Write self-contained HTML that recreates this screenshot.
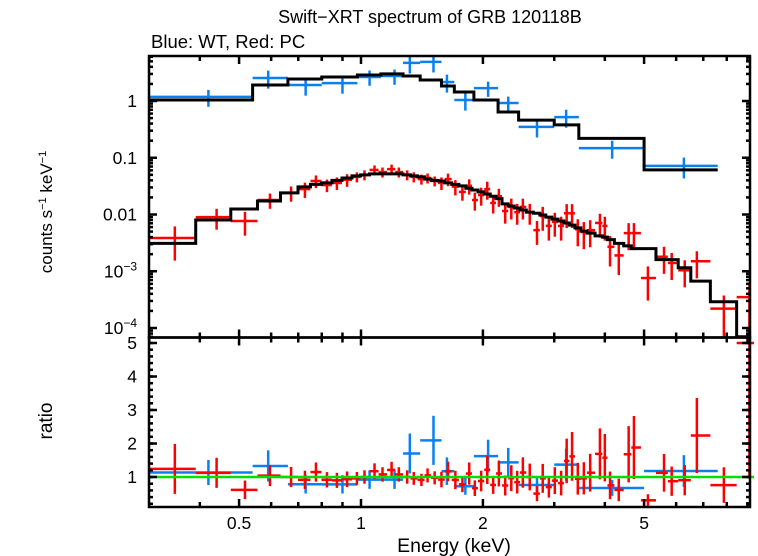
<!DOCTYPE html>
<html><head><meta charset="utf-8"><style>
html,body{margin:0;padding:0;background:#fff}
svg{display:block}
text{font-family:"Liberation Sans",sans-serif;fill:#000}
</style></head><body>
<svg id="c" width="758" height="556" viewBox="0 0 758 556">
<defs>
<clipPath id="ct"><rect x="149" y="56" width="601" height="281"/></clipPath>
<clipPath id="cb"><rect x="149" y="338" width="605" height="169"/></clipPath>
</defs>
<text x="430" y="23" font-size="18" text-anchor="middle">Swift−XRT spectrum of GRB 120118B</text>
<text x="151" y="48" font-size="18.5">Blue: WT, Red: PC</text>
<text transform="translate(52,212) rotate(-90)" font-size="17" text-anchor="middle">counts s<tspan font-size="11" dy="-6">−1</tspan><tspan dy="6"> keV</tspan><tspan font-size="11" dy="-6">−1</tspan></text>
<text transform="translate(52,421) rotate(-90)" font-size="19" text-anchor="middle">ratio</text>
<text x="454" y="552" font-size="19.5" text-anchor="middle">Energy (keV)</text>
<g id="gt" clip-path="url(#ct)"></g>
<g id="gb" clip-path="url(#cb)"></g>
<g id="ax"></g>
</svg>
<script>
// Blue (WT) data
const blueE=[0.42,0.59,0.73,0.90,1.05,1.21,1.32,1.51,1.63,1.81,2.06,2.31,2.72,3.21,4.17,6.27];
const blueEdges=[0.30,0.54,0.66,0.80,0.98,1.12,1.27,1.40,1.58,1.70,1.90,2.18,2.45,3.0,3.45,5.0,7.6];
const blueV=[1.18,2.54,1.91,2.07,2.65,2.76,4.7,4.9,2.16,1.04,1.69,0.92,0.35,0.52,0.148,0.072];
const blueErr=[0.33,0.35,0.35,0.35,0.3,0.3,0.35,0.35,0.35,0.35,0.3,0.3,0.35,0.35,0.35,0.4];
const blueModel=[1.04,1.91,2.44,2.65,2.87,3.0,2.76,2.34,1.84,1.44,1.04,0.64,0.46,0.38,0.22,0.061];
// Red (PC) data
const redE=[0.347,0.44,0.517,0.596,0.672,0.727,0.774,0.824,0.872,0.924,0.977,1.02,1.08,1.13,1.19,1.24,1.30,1.35,1.41,1.46,1.52,1.58,1.64,1.71,1.78,1.85,1.91,1.98,2.05,2.12,2.19,2.27,2.35,2.43,2.51,2.61,2.72,2.81,2.91,3.01,3.12,3.22,3.32,3.43,3.55,3.68,3.89,4.00,4.12,4.33,4.58,4.72,5.11,5.6,5.85,6.3,6.75,7.87,9.1];
const redV=[0.00385,0.0090,0.0077,0.018,0.024,0.028,0.039,0.033,0.036,0.041,0.046,0.050,0.061,0.056,0.063,0.056,0.050,0.046,0.042,0.044,0.039,0.036,0.042,0.031,0.025,0.032,0.018,0.022,0.028,0.016,0.021,0.0115,0.0136,0.011,0.0136,0.011,0.0053,0.0094,0.0063,0.0074,0.0063,0.0105,0.0105,0.0055,0.0049,0.0053,0.0071,0.0063,0.0027,0.0019,0.0047,0.0047,0.00076,0.0018,0.0014,0.00104,0.0015,0.00022,0.00035];
const redErr=[0.6,0.4,0.45,0.3,0.3,0.3,0.25,0.25,0.25,0.25,0.2,0.2,0.2,0.2,0.2,0.2,0.2,0.2,0.2,0.2,0.2,0.25,0.25,0.3,0.3,0.3,0.35,0.35,0.35,0.35,0.35,0.4,0.4,0.4,0.4,0.4,0.45,0.45,0.45,0.45,0.45,0.45,0.45,0.5,0.5,0.5,0.45,0.45,0.55,0.55,0.5,0.5,0.6,0.5,0.5,0.5,0.5,0.7,0.8];
const redModel=[0.0031,0.0080,0.0125,0.0173,0.024,0.0306,0.034,0.036,0.040,0.044,0.048,0.050,0.052,0.052,0.052,0.052,0.050,0.048,0.046,0.042,0.040,0.039,0.036,0.034,0.032,0.029,0.027,0.025,0.023,0.021,0.019,0.0154,0.0141,0.013,0.012,0.011,0.0105,0.0098,0.009,0.0083,0.0077,0.0071,0.0065,0.0058,0.0051,0.0047,0.0042,0.0040,0.0036,0.0031,0.0028,0.0025,0.0025,0.0016,0.0016,0.00115,0.00067,0.00029,0.00007];
const xMajor=[0.5,1,2,5];
const xMajorLabels=["0.5","1","2","5"];
const xMinor=[0.3,0.4,0.6,0.7,0.8,0.9,3,4,6,7,8,9];
const yDecades=[1,0.1,0.01,0.001,0.0001];
const yLabels=["1","0.1","0.01","10|−3","10|−4"];
const rMajor=[1,2,3,4,5];

const L=149,R=750,T=56,MB=337.5,B=507;
const X=e=>361+405*Math.log10(e);
const Y=v=>101-56.75*Math.log10(v);
const YR=r=>510.5-33.5*r;
const NS="http://www.w3.org/2000/svg";
const gt=document.getElementById('gt'),gb=document.getElementById('gb'),ax=document.getElementById('ax');
function ln(g,x1,y1,x2,y2,col,w){const l=document.createElementNS(NS,'line');l.setAttribute('x1',x1);l.setAttribute('y1',y1);l.setAttribute('x2',x2);l.setAttribute('y2',y2);l.setAttribute('stroke',col);l.setAttribute('stroke-width',w);g.appendChild(l);return l;}
function pl(g,pts,col,w){const p=document.createElementNS(NS,'polyline');p.setAttribute('points',pts.map(q=>q.join(',')).join(' '));p.setAttribute('fill','none');p.setAttribute('stroke',col);p.setAttribute('stroke-width',w);g.appendChild(p);return p;}
function tx(x,y,s,anchor,size){const t=document.createElementNS(NS,'text');t.setAttribute('x',x);t.setAttribute('y',y);t.setAttribute('font-size',size||17.5);t.setAttribute('text-anchor',anchor);t.textContent=s;ax.appendChild(t);return t;}
function redEdges(){const e=[];for(let i=0;i<=redE.length;i++){let a;if(i==0)a=Math.log10(redE[0])-(Math.log10(redE[1])-Math.log10(redE[0]))/2;else if(i==redE.length)a=Math.log10(redE[i-1])+(Math.log10(redE[i-1])-Math.log10(redE[i-2]))/2;else a=(Math.log10(redE[i-1])+Math.log10(redE[i]))/2;e.push(Math.pow(10,a));}e[0]=0.30;return e;}
const rEd=redEdges();

function stepPts(edges,vals,fy){const p=[];for(let i=0;i<vals.length;i++){p.push([X(edges[i]),fy(vals[i])]);p.push([X(edges[i+1]),fy(vals[i])]);}return p;}

for(let i=0;i<blueE.length;i++){
  const g=document.createElementNS(NS,'g');
  
  
  gt.appendChild(g);
  const v=blueV[i],s=v*blueErr[i];
  ln(g,X(blueEdges[i]),Y(v),X(blueEdges[i+1]),Y(v),'#0a80f0',2.5);
  ln(g,X(blueE[i]),Y(v+s),X(blueE[i]),Y(v-s),'#0a80f0',2.5);
}
for(let i=0;i<redE.length;i++){
  const g=document.createElementNS(NS,'g');
  
  
  gt.appendChild(g);
  const v=redV[i],s=v*redErr[i];
  ln(g,X(rEd[i]),Y(v),X(rEd[i+1]),Y(v),'#ff0000',2.5);
  ln(g,X(redE[i]),Y(v+s),X(redE[i]),Y(Math.max(v-s,1e-6)),'#ff0000',2.5);
}
let m1=pl(gt,stepPts(blueEdges,blueModel,Y),'#000',3);


let m2=pl(gt,stepPts(rEd,redModel,Y),'#000',3);



for(let i=0;i<blueE.length;i++){
  const g=document.createElementNS(NS,'g');
  
  
  gb.appendChild(g);
  const r=blueV[i]/blueModel[i],s=r*blueErr[i];
  ln(g,X(blueEdges[i]),YR(r),X(blueEdges[i+1]),YR(r),'#0a80f0',2.5);
  ln(g,X(blueE[i]),YR(r+s),X(blueE[i]),YR(r-s),'#0a80f0',2.5);
}
for(let i=0;i<redE.length;i++){
  const g=document.createElementNS(NS,'g');
  
  
  gb.appendChild(g);
  const r=redV[i]/redModel[i],s=r*redErr[i];
  ln(g,X(rEd[i]),YR(r),X(rEd[i+1]),YR(r),'#ff0000',2.5);
  ln(g,X(redE[i]),YR(r+s),X(redE[i]),YR(r-s),'#ff0000',2.5);
}
let gl=ln(gb,L,YR(1),R+4,YR(1),'#00e000',2.5);



for(const [t,b,nm] of [[T,MB,'top-panel-frame'],[MB,B,'ratio-panel-frame']]){
  const r=document.createElementNS(NS,'rect');
  r.setAttribute('x',L);r.setAttribute('y',t);r.setAttribute('width',R-L);r.setAttribute('height',b-t);
  r.setAttribute('fill','none');r.setAttribute('stroke','#000');r.setAttribute('stroke-width',2.5);
  
  
  ax.appendChild(r);
}
for(const [t,b] of [[T,MB],[MB,B]]){
  xMajor.forEach(e=>{ln(ax,X(e),t,X(e),t+8,'#000',2.5);ln(ax,X(e),b,X(e),b-8,'#000',2.5);});
  xMinor.forEach(e=>{ln(ax,X(e),t,X(e),t+5,'#000',2.5);ln(ax,X(e),b,X(e),b-5,'#000',2.5);});
}
xMajor.forEach((e,i)=>{const t=tx(X(e),529,xMajorLabels[i],'middle');

});
yDecades.forEach((d,i)=>{
  const y=Y(d);
  if(y>T&&y<MB){ln(ax,L,y,L+8,y,'#000',2.5);ln(ax,R,y,R-8,y,'#000',2.5);}
  for(let k=2;k<=9;k++){const yy=Y(d*k);if(yy>T&&yy<MB){ln(ax,L,yy,L+4,yy,'#000',2.5);ln(ax,R,yy,R-4,yy,'#000',2.5);}}
  const parts=yLabels[i].split('|');
  const t=tx(137,y+6,parts[0],'end');
  if(parts[1]){const sp=document.createElementNS(NS,'tspan');sp.setAttribute('font-size','12');sp.setAttribute('dy','-7');sp.textContent=parts[1];t.appendChild(sp);}
  
  
});
for(let k=2;k<=9;k++){const yy=Y(0.00001*k);if(yy>T&&yy<MB){ln(ax,L,yy,L+4,yy,'#000',2.5);ln(ax,R,yy,R-4,yy,'#000',2.5);}}
for(let r=0.2;r<5.1;r+=0.2){const y=YR(r);if(y>MB&&y<B){ln(ax,L,y,L+4,y,'#000',2.5);ln(ax,R,y,R-4,y,'#000',2.5);}}
rMajor.forEach(r=>{const y=YR(r);ln(ax,L,y,L+8,y,'#000',2.5);ln(ax,R,y,R-8,y,'#000',2.5);
const t=tx(137,y+6,String(r),'end');

});
</script>
</body></html>
